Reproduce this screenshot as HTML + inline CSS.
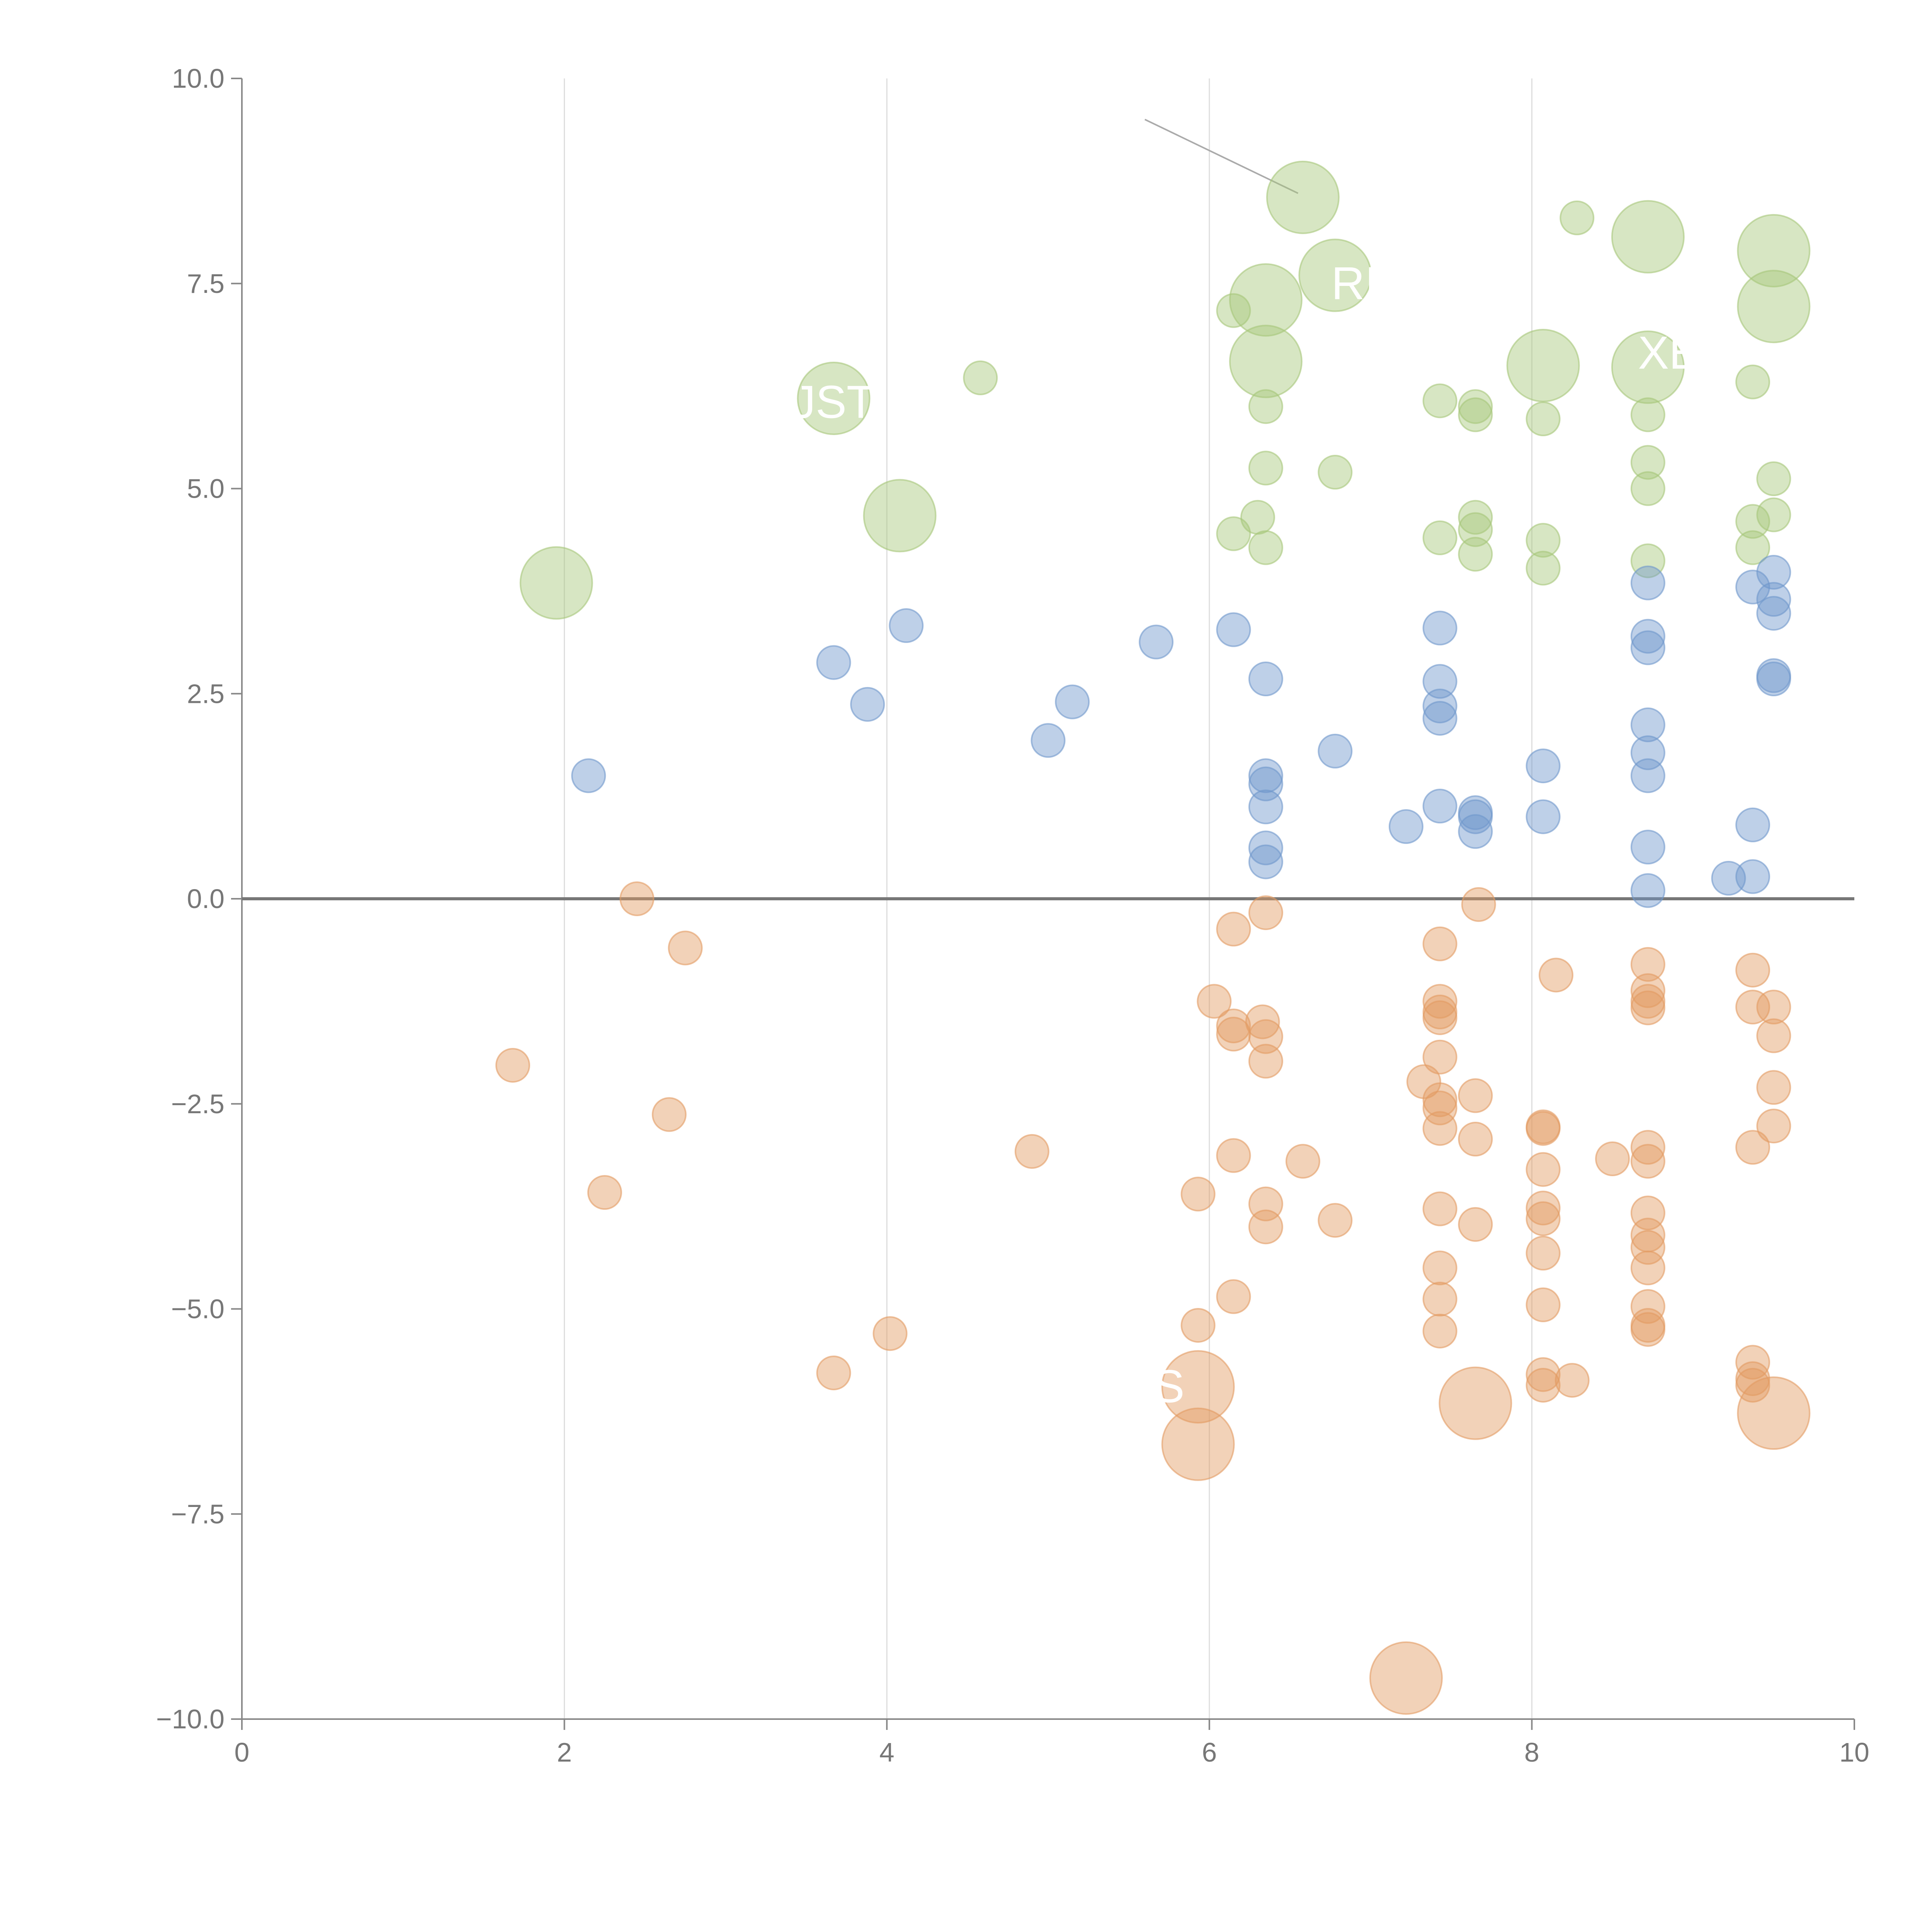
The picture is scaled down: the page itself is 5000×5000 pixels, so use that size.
<!DOCTYPE html>
<html><head><meta charset="utf-8"><style>
html,body{margin:0;padding:0;background:#fff;}
svg{display:block;font-family:"Liberation Sans",sans-serif;}
</style></head><body>
<svg id="chart" width="5000" height="5000" viewBox="0 0 5000 5000" xmlns="http://www.w3.org/2000/svg"></svg>
<script>
const xTicks=[0,2,4,6,8,10];
const yTicks=[-10,-7.5,-5,-2.5,0,2.5,5,7.5,10];
const yTickLabels=["\u221210.0","\u22127.5","\u22125.0","\u22122.5","0.0","2.5","5.0","7.5","10.0"];
const greenX=[4.58,6.15,6.35,6.35,6.3,6.15,6.35,6.78,7.43,7.43,7.65,7.65,7.65,7.65,7.65,8.07,8.07,8.07,8.28,8.72,8.72,8.72,8.72,9.37,9.37,9.37,9.5,9.5,1.95,3.67,4.08,6.58,6.78,6.35,6.35,8.07,8.72,8.72,9.5,9.5];
const greenY=[6.35,7.17,6.0,5.25,4.65,4.45,4.28,5.2,6.07,4.4,6.0,5.9,4.65,4.5,4.2,5.85,4.37,4.03,8.3,5.9,5.32,5.0,4.12,6.3,4.6,4.28,5.12,4.68,3.85,6.1,4.67,8.55,7.6,7.3,6.55,6.5,8.07,6.48,7.9,7.22];
const greenBig=[0,0,0,0,0,0,0,0,0,0,0,0,0,0,0,0,0,0,0,0,0,0,0,0,0,0,0,0,1,1,1,1,1,1,1,1,1,1,1,1];
const blueX=[2.15,3.67,3.88,4.12,5.0,5.15,5.67,6.15,6.35,6.35,6.35,6.35,6.35,6.35,6.78,7.22,7.43,7.43,7.43,7.43,7.43,7.65,7.65,7.65,8.07,8.07,8.72,8.72,8.72,8.72,8.72,8.72,8.72,8.72,9.22,9.37,9.37,9.37,9.5,9.5,9.5,9.5,9.5];
const blueY=[1.5,2.88,2.37,3.33,1.93,2.4,3.13,3.28,2.68,1.5,1.4,1.12,0.62,0.45,1.8,0.88,3.3,2.65,2.35,2.2,1.13,1.05,1.0,0.82,1.62,1.0,3.85,3.2,3.06,2.12,1.78,1.5,0.63,0.1,0.25,0.27,0.9,3.8,3.98,3.65,3.48,2.72,2.68];
const orangeX=[1.68,2.25,2.45,2.65,2.75,3.67,4.02,4.9,5.93,5.93,6.03,6.15,6.15,6.15,6.15,6.15,6.35,6.33,6.35,6.35,6.35,6.35,6.58,6.78,7.33,7.43,7.43,7.43,7.43,7.43,7.43,7.43,7.43,7.43,7.43,7.43,7.43,7.65,7.65,7.65,7.67,8.07,8.07,8.07,8.07,8.07,8.07,8.07,8.07,8.07,8.15,8.25,8.5,8.72,8.72,8.72,8.72,8.72,8.72,8.72,8.72,8.72,8.72,8.72,8.72,8.72,9.37,9.37,9.37,9.37,9.37,9.37,9.5,9.5,9.5,9.5,5.93,5.93,7.65,9.5,7.22];
const orangeY=[-2.03,-3.58,0.0,-2.63,-0.6,-5.78,-5.3,-3.08,-3.6,-5.2,-1.25,-0.37,-1.55,-1.65,-3.13,-4.85,-0.17,-1.5,-1.68,-1.98,-3.72,-4.0,-3.2,-3.92,-2.23,-0.55,-1.25,-1.38,-1.45,-1.93,-2.45,-2.55,-2.8,-3.78,-4.5,-4.88,-5.27,-2.4,-2.93,-3.97,-0.07,-2.78,-2.8,-3.3,-3.77,-3.9,-4.32,-4.95,-5.8,-5.93,-0.93,-5.87,-3.17,-0.8,-1.12,-1.25,-1.33,-3.03,-3.2,-3.83,-4.1,-4.25,-4.5,-4.97,-5.2,-5.25,-0.87,-1.32,-3.03,-5.65,-5.85,-5.93,-1.32,-1.67,-2.3,-2.77,-5.95,-6.65,-6.15,-6.27,-9.5];
const orangeBig=orangeX.map((_,i)=>i>=orangeX.length-5?1:0);
const labelTexts=["JST","S","RI","XE"];
const labelX=[3.67,5.75,6.9,8.85];
const labelY=[6.05,-5.95,7.5,6.65];

const svg=document.getElementById('chart');
const NS='http://www.w3.org/2000/svg';
const X0=626,X1=4799,Y0=4449,Y1=203;
const sx=v=>X0+(v-0)/10*(X1-X0);
const sy=v=>Y0-(v+10)/20*(Y0-Y1);
function mk(tag,attrs,parent){const e=document.createElementNS(NS,tag);for(const k in attrs)e.setAttribute(k,attrs[k]);(parent||svg).appendChild(e);return e;}

const grid=mk('g',{});


[2,4,6,8].forEach(v=>{const l=mk('line',{x1:sx(v),x2:sx(v),y1:Y1,y2:Y0,stroke:'#dddddd','stroke-width':3},grid);

});

const ax=mk('g',{});


const yl=mk('line',{x1:X0,x2:X0,y1:Y1,y2:Y0,stroke:'#888','stroke-width':4},ax);


const xl=mk('line',{x1:X0,x2:X1,y1:Y0,y2:Y0,stroke:'#888','stroke-width':4},ax);


xTicks.forEach(v=>{mk('line',{x1:sx(v),x2:sx(v),y1:Y0,y2:Y0+28,stroke:'#888','stroke-width':4},ax);
const t=mk('text',{x:sx(v),y:Y0+110,'text-anchor':'middle','font-size':70,fill:'#777'},ax);t.textContent=v;

});
yTicks.forEach((v,i)=>{mk('line',{x1:X0-28,x2:X0,y1:sy(v),y2:sy(v),stroke:'#888','stroke-width':4},ax);
const t=mk('text',{x:X0-45,y:sy(v)+24,'text-anchor':'end','font-size':70,fill:'#777'},ax);t.textContent=yTickLabels[i];

});

const zl=mk('line',{x1:X0,x2:X1,y1:sy(0),y2:sy(0),stroke:'#777','stroke-width':8});



const an=mk('line',{x1:sx(5.6),y1:sy(9.5),x2:sx(6.55),y2:sy(8.6),stroke:'#aaa','stroke-width':4});



function series(xs,ys,big,color,name){
  const g=mk('g',{});
  
  
  xs.forEach((x,i)=>{const c=mk('circle',{cx:sx(x),cy:sy(ys[i]),r:big&&big[i]?93:43,fill:color,'fill-opacity':0.45,stroke:color,'stroke-opacity':0.6,'stroke-width':4},g);
  
  });
}
series(greenX,greenY,greenBig,'#a7c77a','green');
series(blueX,blueY,null,'#6f97cc','blue');
series(orangeX,orangeY,orangeBig,'#e39b62','orange');

labelTexts.forEach((s,i)=>{const t=mk('text',{x:sx(labelX[i]),y:sy(labelY[i])+40,'text-anchor':'middle','font-size':120,fill:'#fff'});t.textContent=s;

});
</script>
</body></html>
